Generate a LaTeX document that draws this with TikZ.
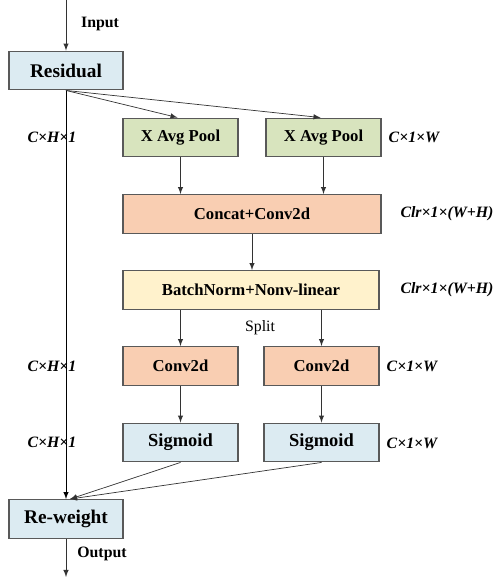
\documentclass[tikz,border=0pt]{standalone}
\usepackage{fontspec}
\setmainfont{Liberation Serif}
\usetikzlibrary{positioning}

\definecolor{resblue}{RGB}{220,235,242}
\definecolor{poolgreen}{RGB}{216,228,190}
\definecolor{convorange}{RGB}{249,206,178}
\definecolor{bnyellow}{RGB}{255,242,204}

\tikzset{
  blk/.style={draw=black!65, thick, inner sep=0pt, minimum height=0.77cm, font=\bfseries\fontsize{9.5}{11}\selectfont},
  bigblk/.style={blk, minimum width=2.28cm, fill=resblue, font=\bfseries\fontsize{11}{13}\selectfont},
  smallblk/.style={blk, minimum width=2.3cm},
  dimlbl/.style={font=\bfseries\itshape\fontsize{9}{11}\selectfont},
  flow/.style={->, draw=black!80}
}

\begin{document}
\begin{tikzpicture}[>=latex, x=0.02cm, y=-0.02cm]
  \useasboundingbox (0,0) rectangle (495,577);
  % blocks
  \node [bigblk] (res) at (66,70.5) {Residual};
  \node [smallblk, fill=poolgreen] (poolh) at (180.5,137.5) {X Avg Pool};
  \node [smallblk, fill=poolgreen] (poolw) at (323.5,137.5) {X Avg Pool};
  \node [blk, fill=convorange, minimum width=5.16cm] (cat) at (252,214) {Concat+Conv2d};
  \node [blk, fill=bnyellow, minimum width=5.12cm] (bn) at (251,290) {BatchNorm+Nonv-linear};
  \node [smallblk, fill=convorange] (convh) at (180.5,366) {Conv2d};
  \node [smallblk, fill=convorange] (convw) at (321.5,366) {Conv2d};
  \node [smallblk, fill=resblue, font=\bfseries\fontsize{10.5}{12}\selectfont] (sigh) at (180.5,442.5) {Sigmoid};
  \node [smallblk, fill=resblue, font=\bfseries\fontsize{10.5}{12}\selectfont] (sigw) at (321.5,442.5) {Sigmoid};
  \node [bigblk] (rew) at (66,519) {Re-weight};
  \coordinate (in) at (66,0);
  \coordinate (out) at (66,577);

  % connectors
  \draw [flow] (in) -- (res.north);
  \draw [->] (res.south) -- (rew.north);
  \draw [flow] (res.south) -- ([xshift=-0.06cm]poolh.north);
  \draw [flow] (res.south) -- ([xshift=-0.06cm]poolw.north);
  \draw [flow] (poolh.south) -- (poolh.south |- cat.north);
  \draw [flow] (poolw.south) -- (poolw.south |- cat.north);
  \draw [flow] (cat.south) -- (cat.south |- bn.north);
  \draw [flow] (convh.north |- bn.south) -- (convh.north);
  \draw [flow] (convw.north |- bn.south) -- (convw.north);
  \draw [flow] (convh.south) -- (sigh.north);
  \draw [flow] (convw.south) -- (sigw.north);
  \draw [flow] (sigh.south) -- ([xshift=0.08cm]rew.north);
  \draw [flow] (sigw.south) -- ([xshift=0.08cm]rew.north);
  \draw [flow] (rew.south) -- (out);

  % labels
  \node [font=\bfseries\fontsize{9}{11}\selectfont] (inlbl) at (100,24) {Input};
  \node [font=\bfseries\fontsize{9}{11}\selectfont] (outlbl) at (102,554) {Output};
  \node [font=\fontsize{9}{11}\selectfont] (split) at (260,328) {Split};
  \node [dimlbl] (dh1) at (52,137) {C×H×1};
  \node [dimlbl] (dh2) at (52,366) {C×H×1};
  \node [dimlbl] (dh3) at (52,442) {C×H×1};
  \node [dimlbl] (dw1) at (414,137) {C×1×W};
  \node [dimlbl] (dw2) at (412,366) {C×1×W};
  \node [dimlbl] (dw3) at (412,443) {C×1×W};
  \node [dimlbl] (dc1) at (447,214) {Clr×1×(W+H)};
  \node [dimlbl] (dc2) at (447,290) {Clr×1×(W+H)};
\end{tikzpicture}
\end{document}
